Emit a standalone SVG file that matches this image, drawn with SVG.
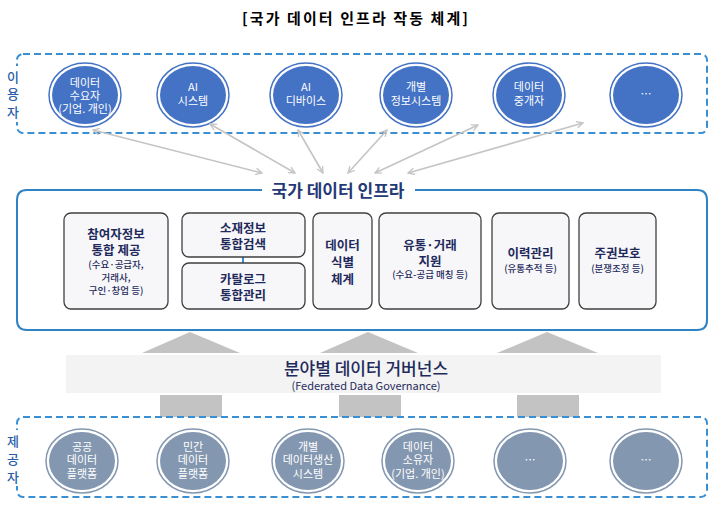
<svg xmlns="http://www.w3.org/2000/svg" width="717" height="506" viewBox="0 0 717 506">
<defs>
<marker id="ah" viewBox="0 0 10 10" refX="9" refY="5" markerWidth="8" markerHeight="8" orient="auto-start-reverse" markerUnits="userSpaceOnUse">
<polyline points="1,1 9,5 1,9" fill="none" stroke="#c4c4c4" stroke-width="1.6"/>
</marker>
<style>
text{font-family:"Noto Sans CJK KR","Noto Sans",sans-serif;dominant-baseline:central;text-anchor:middle}
.dash{fill:none;stroke:#3a8fd2;stroke-width:2;stroke-dasharray:7 4}
.side{font-size:13px;fill:#2a5fa8;font-weight:500}
.uo{fill:#fff;stroke:#4472c4;stroke-width:1.5}
.ui{fill:#4472c4}
.po{fill:#fff;stroke:#8497b0;stroke-width:1.5}
.pi{fill:#8497b0}
.ct{font-size:11px;fill:#fff}
.box{fill:#f7f7f9;stroke:#404040;stroke-width:1.3}
.bt{font-size:12.5px;fill:#1f2a5c;font-weight:600}
.bs{font-size:9.5px;fill:#1f2a5c;font-weight:500}
.arr{stroke:#c4c4c4;stroke-width:1.6;fill:none;marker-start:url(#ah);marker-end:url(#ah)}
.gray{fill:#c3c3c3}
</style>
</defs>
<rect width="717" height="506" fill="#fff"/>
<text x="355" y="17" font-size="15" font-weight="700" fill="#000" textLength="226" lengthAdjust="spacing">[국가 데이터 인프라 작동 체계]</text>

<!-- users group -->
<g id="users">
<rect class="dash" x="17" y="54" width="690" height="79" rx="6"/>
<rect x="5" y="66" width="18" height="56" fill="#fff"/>
<text class="side" x="13" y="76">이</text>
<text class="side" x="13" y="93">용</text>
<text class="side" x="13" y="111">자</text>
</g>
<g id="u1"><ellipse class="uo" cx="85" cy="95" rx="36" ry="32"/><ellipse class="ui" cx="85" cy="95" rx="33" ry="29"/>
<text class="ct" x="85" y="82">데이터</text><text class="ct" x="85" y="95">수요자</text><text class="ct" x="85" y="108">(기업. 개인)</text></g>
<g id="u2"><ellipse class="uo" cx="193" cy="95" rx="36" ry="32"/><ellipse class="ui" cx="193" cy="95" rx="33" ry="29"/>
<text class="ct" x="193" y="86">AI</text><text class="ct" x="193" y="100">시스템</text></g>
<g id="u3"><ellipse class="uo" cx="306" cy="95" rx="36" ry="32"/><ellipse class="ui" cx="306" cy="95" rx="33" ry="29"/>
<text class="ct" x="306" y="86">AI</text><text class="ct" x="306" y="100">디바이스</text></g>
<g id="u4"><ellipse class="uo" cx="416" cy="95" rx="36" ry="32"/><ellipse class="ui" cx="416" cy="95" rx="33" ry="29"/>
<text class="ct" x="416" y="86">개별</text><text class="ct" x="416" y="100">정보시스템</text></g>
<g id="u5"><ellipse class="uo" cx="529" cy="95" rx="36" ry="32"/><ellipse class="ui" cx="529" cy="95" rx="33" ry="29"/>
<text class="ct" x="529" y="86">데이터</text><text class="ct" x="529" y="100">중개자</text></g>
<g id="u6"><ellipse class="uo" cx="646" cy="95" rx="36" ry="32"/><ellipse class="ui" cx="646" cy="95" rx="33" ry="29"/>
<text class="ct" x="646" y="93">…</text></g>

<!-- connectors -->
<g id="connectors">
<line class="arr" x1="93" y1="130" x2="262" y2="173"/>
<line class="arr" x1="210" y1="124" x2="295" y2="173"/>
<line class="arr" x1="298" y1="130" x2="323" y2="173"/>
<line class="arr" x1="387" y1="130" x2="348" y2="173"/>
<line class="arr" x1="478" y1="125" x2="375" y2="173"/>
<line class="arr" x1="583" y1="123" x2="408" y2="173"/>
<line x1="243" y1="257" x2="243" y2="263" stroke="#3a8fd2" stroke-width="2"/>
<polygon class="gray" points="142,353 190,332 240,353"/>
<polygon class="gray" points="320,353 368,332 418,353"/>
<polygon class="gray" points="497,353 547,332 598,353"/>
<rect class="gray" x="160" y="395" width="62" height="22"/>
<rect class="gray" x="339" y="395" width="62" height="22"/>
<rect class="gray" x="517" y="395" width="62" height="22"/>
</g>

<!-- infrastructure -->
<g id="infra">
<path d="M262,190 H27 Q17,190 17,200 V320 Q17,330 27,330 H697 Q707,330 707,320 V200 Q707,190 697,190 H415" fill="none" stroke="#2f82c4" stroke-width="2"/>
<text x="338" y="189" font-size="17" font-weight="700" fill="#243a75">국가 데이터 인프라</text>
</g>
<g id="bA"><rect class="box" x="64" y="213" width="104" height="96" rx="7"/>
<text class="bt" x="116" y="233">참여자정보</text><text class="bt" x="116" y="249">통합 제공</text>
<text class="bs" x="116" y="264">(수요·공급자,</text><text class="bs" x="116" y="277">거래사,</text><text class="bs" x="116" y="290">구인·창업 등)</text></g>
<g id="bB1"><rect class="box" x="182" y="213" width="123" height="44" rx="7"/>
<text class="bt" x="243" y="227">소재정보</text><text class="bt" x="243" y="243">통합검색</text></g>
<g id="bB2"><rect class="box" x="182" y="263" width="123" height="46" rx="7"/>
<text class="bt" x="243" y="278">카탈로그</text><text class="bt" x="243" y="294">통합관리</text></g>
<g id="bC"><rect class="box" x="313" y="213" width="59" height="96" rx="7"/>
<text class="bt" x="342.5" y="244">데이터</text><text class="bt" x="342.5" y="261">식별</text><text class="bt" x="342.5" y="278">체계</text></g>
<g id="bD"><rect class="box" x="379" y="213" width="102" height="96" rx="7"/>
<text class="bt" x="430" y="244">유통·거래</text><text class="bt" x="430" y="260">지원</text><text class="bs" x="430" y="274">(수요-공급 매칭 등)</text></g>
<g id="bE"><rect class="box" x="492" y="213" width="77" height="96" rx="7"/>
<text class="bt" x="530.5" y="252">이력관리</text><text class="bs" x="530.5" y="268">(유통추적 등)</text></g>
<g id="bF"><rect class="box" x="579" y="213" width="77" height="96" rx="7"/>
<text class="bt" x="617.5" y="252">주권보호</text><text class="bs" x="617.5" y="268">(분쟁조정 등)</text></g>

<!-- governance -->
<g id="gov">
<rect x="66" y="355" width="595" height="38" fill="#f3f3f3"/>
<text x="366" y="367" font-size="17" font-weight="500" fill="#1f2a5c">분야별 데이터 거버넌스</text>
<text x="366" y="385" font-size="11" fill="#1f2a5c">(Federated Data Governance)</text>
</g>

<!-- providers -->
<g id="providers">
<rect class="dash" x="17" y="417" width="690" height="80" rx="6"/>
<rect x="5" y="430" width="18" height="56" fill="#fff"/>
<text class="side" x="13" y="440">제</text>
<text class="side" x="13" y="458">공</text>
<text class="side" x="13" y="476">자</text>
</g>
<g id="p1"><ellipse class="po" cx="82" cy="461" rx="36" ry="32"/><ellipse class="pi" cx="82" cy="461" rx="33" ry="29"/>
<text class="ct" x="82" y="446">공공</text><text class="ct" x="82" y="459">데이터</text><text class="ct" x="82" y="473">플랫폼</text></g>
<g id="p2"><ellipse class="po" cx="193" cy="461" rx="36" ry="32"/><ellipse class="pi" cx="193" cy="461" rx="33" ry="29"/>
<text class="ct" x="193" y="446">민간</text><text class="ct" x="193" y="459">데이터</text><text class="ct" x="193" y="473">플랫폼</text></g>
<g id="p3"><ellipse class="po" cx="308" cy="461" rx="36" ry="32"/><ellipse class="pi" cx="308" cy="461" rx="33" ry="29"/>
<text class="ct" x="308" y="446">개별</text><text class="ct" x="308" y="459">데이터생산</text><text class="ct" x="308" y="473">시스템</text></g>
<g id="p4"><ellipse class="po" cx="418" cy="461" rx="36" ry="32"/><ellipse class="pi" cx="418" cy="461" rx="33" ry="29"/>
<text class="ct" x="418" y="446">데이터</text><text class="ct" x="418" y="459">소유자</text><text class="ct" x="418" y="473">(기업. 개인)</text></g>
<g id="p5"><ellipse class="po" cx="530" cy="461" rx="36" ry="32"/><ellipse class="pi" cx="530" cy="461" rx="33" ry="29"/>
<text class="ct" x="530" y="459">…</text></g>
<g id="p6"><ellipse class="po" cx="646" cy="461" rx="36" ry="32"/><ellipse class="pi" cx="646" cy="461" rx="33" ry="29"/>
<text class="ct" x="646" y="459">…</text></g>
</svg>
